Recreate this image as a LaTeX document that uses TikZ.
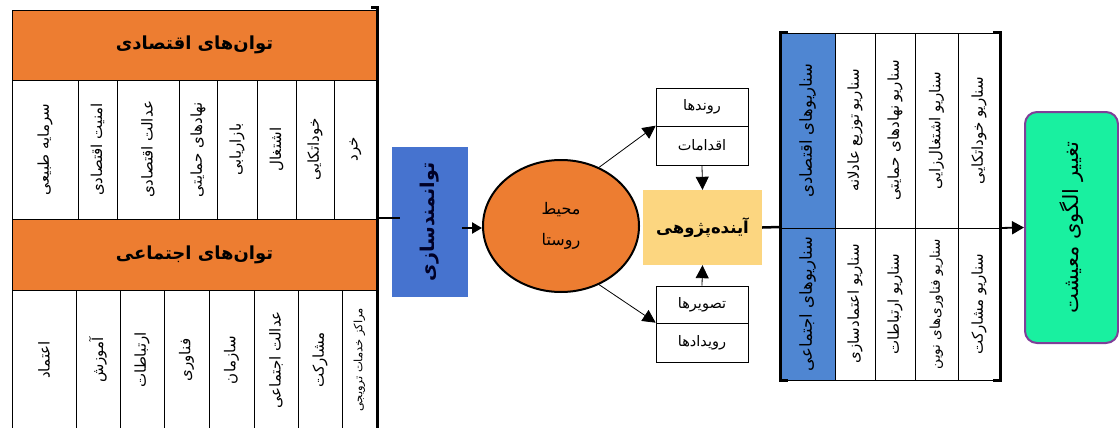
\documentclass[tikz,border=0pt]{standalone}
\usepackage{fontspec}
\TeXXeTstate=1
\newfontfamily\fa[Script=Arabic]{DejaVu Sans}
\usetikzlibrary{arrows.meta,shapes.geometric,calc}
\definecolor{orng}{HTML}{ED7D31}
\definecolor{bluebox}{HTML}{4673CF}
\definecolor{bluecol}{HTML}{4F86D2}
\definecolor{yel}{HTML}{FCD680}
\definecolor{grn}{HTML}{19F0A0}
\definecolor{purp}{HTML}{7F3F98}
\tikzset{
  cell/.style={draw=black, line width=0.6pt, fill=white, rotate=90, inner sep=0pt, font=\fa\fontsize{15}{17}\selectfont},
  rcell/.style={cell, font=\fa\fontsize{15}{17}\selectfont},
  hdr/.style={draw=black, line width=0.6pt, fill=orng, inner sep=0pt, font=\fa\bfseries\fontsize{18}{22}\selectfont},
  bcol/.style={cell, fill=bluecol, font=\fa\fontsize{16.5}{19}\selectfont},
  sbox/.style={draw=black, line width=0.6pt, fill=white, minimum width=92pt, inner sep=0pt, font=\fa\fontsize{14.5}{17}\selectfont},
  brk/.style={line width=3pt, line cap=rect},
  thin arr/.style={line width=0.8pt, -{Triangle[length=13pt,width=13pt]}},
  thick arr/.style={line width=2.5pt, -{Triangle[length=10pt,width=11pt]}}
}
\begin{document}
\begin{tikzpicture}[x=1pt,y=-1pt]
\useasboundingbox (0,0) rectangle (1119,428);
% ---------- left: economic ----------
\node[hdr, minimum width=365pt, minimum height=70pt] (eh) at (194.5,45) {\beginR توان^^^^200cهای اقتصادی\endR};
\node[cell, minimum width=139pt, minimum height=66pt] (e1) at (45,149.5) {\beginR سرمایه طبیعی\endR};
\node[cell, minimum width=139pt, minimum height=39pt] (e2) at (97.5,149.5) {\beginR امنیت اقتصادی\endR};
\node[cell, minimum width=139pt, minimum height=62pt] (e3) at (148,149.5) {\beginR عدالت اقتصادی\endR};
\node[cell, minimum width=139pt, minimum height=38pt] (e4) at (198,149.5) {\beginR نهادهای حمایتی\endR};
\node[cell, minimum width=139pt, minimum height=40pt] (e5) at (237,149.5) {\beginR بازاریابی\endR};
\node[cell, minimum width=139pt, minimum height=39pt] (e6) at (276.5,149.5) {\beginR اشتغال\endR};
\node[cell, minimum width=139pt, minimum height=38pt] (e7) at (315,149.5) {\beginR خوداتکایی\endR};
\node[cell, minimum width=139pt, minimum height=43pt] (e8) at (355.5,149.5) {\beginR خرد\endR};
% ---------- left: social ----------
\node[hdr, minimum width=365pt, minimum height=71pt] (sh) at (194.5,254.5) {\beginR توان^^^^200cهای اجتماعی\endR};
\node[cell, minimum width=140pt, minimum height=64pt] (s1) at (44,360) {\beginR اعتماد\endR};
\node[cell, minimum width=140pt, minimum height=44pt] (s2) at (98,360) {\beginR آموزش\endR};
\node[cell, minimum width=140pt, minimum height=44pt] (s3) at (142,360) {\beginR ارتباطات\endR};
\node[cell, minimum width=140pt, minimum height=45pt] (s4) at (186.5,360) {\beginR فناوری\endR};
\node[cell, minimum width=140pt, minimum height=45pt] (s5) at (231.5,360) {\beginR سازمان\endR};
\node[cell, minimum width=140pt, minimum height=44pt] (s6) at (276,360) {\beginR عدالت اجتماعی\endR};
\node[cell, minimum width=140pt, minimum height=44pt] (s7) at (320,360) {\beginR مشارکت\endR};
\node[cell, minimum width=140pt, minimum height=35pt, font=\fa\fontsize{11.5}{13}\selectfont] (s8) at (359.5,360) {\beginR مراکز خدمات ترویجی\endR};
\draw[brk] (372,8) -- (377,8) -- (377,430);
\coordinate (Lj) at (377,218);
% ---------- centre ----------
\node[fill=bluebox, minimum width=150pt, minimum height=76pt, rotate=90, inner sep=0pt,
      font=\fa\bfseries\fontsize{19}{22}\selectfont, text=black!85!blue] (emp) at (430,222) {\beginR توانمندسازی\endR};
\node[ellipse, draw=black, line width=2pt, fill=orng, minimum width=156pt, minimum height=132pt,
      inner sep=0pt, align=center, font=\fa\fontsize{16}{31}\selectfont] (ell) at (561,226)
      {\beginR محیط\endR\\\beginR روستا\endR};
\node[sbox, minimum height=38pt] (rt1) at (702,107) {\beginR روندها\endR};
\node[sbox, minimum height=39pt] (rt2) at (702,145.5) {\beginR اقدامات\endR};
\node[sbox, minimum height=37pt] (rb1) at (702,304.5) {\beginR تصویرها\endR};
\node[sbox, minimum height=39pt] (rb2) at (702,342.5) {\beginR رویدادها\endR};
\node[fill=yel, minimum width=119pt, minimum height=75pt, inner sep=0pt,
      font=\fa\bfseries\fontsize{16.5}{19}\selectfont] (fut) at (702.5,227.5) {\beginR آینده^^^^200cپژوهی\endR};
% ---------- right table ----------
\node[bcol, minimum width=195pt, minimum height=55pt] (ba) at (807.5,130.5) {\beginR سناریوهای اقتصادی\endR};
\node[bcol, minimum width=152pt, minimum height=55pt] (bb) at (807.5,304) {\beginR سناریوهای اجتماعی\endR};
\node[rcell, minimum width=195pt, minimum height=40pt] (t1) at (855,130.5) {\beginR سناریو توزیع عادلانه\endR};
\node[rcell, minimum width=195pt, minimum height=40pt] (t2) at (895,130.5) {\beginR سناریو نهادهای حمایتی\endR};
\node[rcell, minimum width=195pt, minimum height=43pt] (t3) at (936.5,130.5) {\beginR سناریو اشتغال^^^^200cزایی\endR};
\node[rcell, minimum width=195pt, minimum height=42pt] (t4) at (979,130.5) {\beginR سناریو خوداتکایی\endR};
\node[rcell, minimum width=152pt, minimum height=40pt] (u1) at (855,304) {\beginR سناریو اعتمادسازی\endR};
\node[rcell, minimum width=152pt, minimum height=40pt] (u2) at (895,304) {\beginR سناریو ارتباطات\endR};
\node[rcell, minimum width=152pt, minimum height=43pt, font=\fa\fontsize{13.5}{16}\selectfont] (u3) at (936.5,304) {\beginR سناریو فناوری^^^^200cهای نوین\endR};
\node[rcell, minimum width=152pt, minimum height=42pt] (u4) at (979,304) {\beginR سناریو مشارکت\endR};
\draw[brk] (786,33) -- (780,33) -- (780,380) -- (786,380);
\draw[brk] (994,33) -- (1000,33) -- (1000,380) -- (994,380);
\coordinate (Rj) at (780,227);
\coordinate (Rk) at (1000,228);
% ---------- green ----------
\node[draw=purp, line width=2pt, fill=grn, rounded corners=12pt, minimum width=231pt, minimum height=93pt,
      rotate=90, inner sep=0pt, font=\fa\fontsize{21}{24}\selectfont] (grn) at (1071.5,227.5) {\beginR تغییر الگوی معیشت\endR};
% ---------- connectors ----------
\draw[line width=2.5pt] (Lj) -- ($(Lj -| emp.north)+(8,0)$);
\draw[thick arr] ($(emp.south |- ell.west)+(-6,2)$) -- ($(ell.west)+(0,2)$);
\draw[thin arr] (ell.57) -- (rt2.north west);
\draw[thin arr] (ell.-57) -- (rb2.north west);
\draw[thin arr] (rt2.south) -- (fut.north);
\draw[thin arr] (rb1.north) -- (fut.south);
\draw[line width=2.5pt] (fut.east) -- (Rj);
\draw[line width=1.8pt, -{Triangle[length=12pt,width=13pt]}] (Rk) -- (grn.north);
\end{tikzpicture}
\end{document}
